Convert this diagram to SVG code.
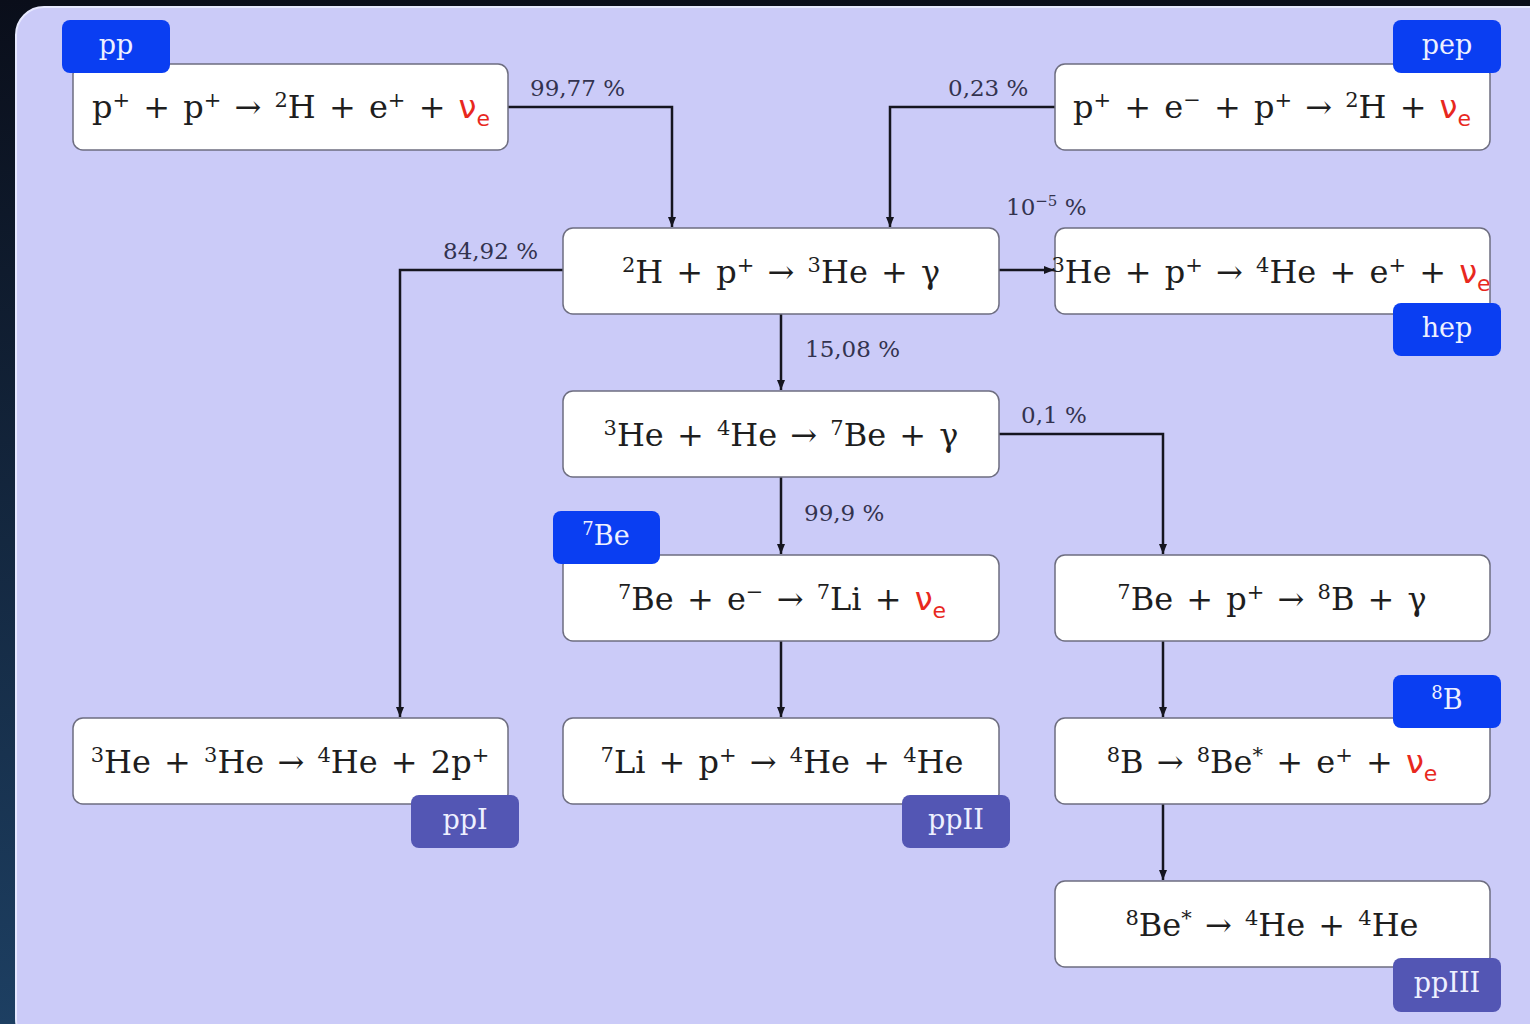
<svg xmlns="http://www.w3.org/2000/svg" width="1530" height="1024" viewBox="0 0 1530 1024">
<defs>
<linearGradient id="bg" x1="0" y1="0" x2="0" y2="1">
<stop offset="0" stop-color="#0a0e1a"/>
<stop offset="1" stop-color="#1d3f62"/>
</linearGradient>
<marker id="ah" viewBox="0 0 10 10" refX="10" refY="5" markerWidth="4" markerHeight="4" orient="auto" markerUnits="strokeWidth">
<path d="M0,1 L10,5 L0,9 Z" fill="#15151f"/>
</marker>
<style>
.box{fill:#ffffff;stroke:#6e6e80;stroke-width:1.5}
.tagb{fill:#0a3ef2}
.tagd{fill:#5356b4}
.tt{font-family:"DejaVu Serif",serif;font-size:27px;fill:#eef0ff;text-anchor:middle}
.rx{font-family:"DejaVu Serif",serif;font-size:32px;fill:#1e1e1e;text-anchor:middle;word-spacing:3px}
.sp{font-size:21px}
.nu{fill:#e8281e;font-family:"DejaVu Sans",sans-serif}
.sb{font-size:22px}
.lbl{font-family:"DejaVu Serif",serif;font-size:23px;fill:#33334f}
.con{fill:none;stroke:#15151f;stroke-width:2.5;marker-end:url(#ah)}
</style>
</defs>
<rect x="0" y="0" width="1530" height="1024" fill="url(#bg)"/>
<rect x="16" y="7" width="1540" height="1040" rx="28" fill="#cbcbf8" stroke="#e6e8ff" stroke-width="2"/>

<g id="connectors">
<path class="con" d="M508,107 H672 V227"/>
<path class="con" d="M1055,107 H890 V227"/>
<path class="con" d="M563,270 H400 V717"/>
<path class="con" d="M999,270 H1054"/>
<path class="con" d="M781,314 V390"/>
<path class="con" d="M781,477 V554"/>
<path class="con" d="M999,434 H1163 V554"/>
<path class="con" d="M781,641 V717"/>
<path class="con" d="M1163,641 V717"/>
<path class="con" d="M1163,804 V880"/>
<text class="lbl" x="530" y="96">99,77 %</text>
<text class="lbl" x="948" y="96">0,23 %</text>
<text class="lbl" x="443" y="259">84,92 %</text>
<text class="lbl" x="1006" y="215">10<tspan font-size="15" dy="-9">−5</tspan><tspan dy="9"> %</tspan></text>
<text class="lbl" x="805" y="357">15,08 %</text>
<text class="lbl" x="804" y="521">99,9 %</text>
<text class="lbl" x="1021" y="423">0,1 %</text>
</g>

<g id="node-pp">
<rect class="box" x="73" y="64" width="435" height="86" rx="10"/>
<rect class="tagb" x="62" y="20" width="108" height="53" rx="8"/>
<text class="tt" x="116" y="54">pp</text>
<text class="rx" x="291" y="118">p<tspan class="sp" dy="-11">+</tspan><tspan dy="11"> + p</tspan><tspan class="sp" dy="-11">+</tspan><tspan dy="11"> → </tspan><tspan class="sp" dy="-11">2</tspan><tspan dy="11">H + e</tspan><tspan class="sp" dy="-11">+</tspan><tspan dy="11"> + </tspan><tspan class="nu">ν</tspan><tspan class="nu sb" dy="8">e</tspan></text>
</g>

<g id="node-pep">
<rect class="box" x="1055" y="64" width="435" height="86" rx="10"/>
<rect class="tagb" x="1393" y="20" width="108" height="53" rx="8"/>
<text class="tt" x="1447" y="54">pep</text>
<text class="rx" x="1272" y="118">p<tspan class="sp" dy="-11">+</tspan><tspan dy="11"> + e</tspan><tspan class="sp" dy="-11">−</tspan><tspan dy="11"> + p</tspan><tspan class="sp" dy="-11">+</tspan><tspan dy="11"> → </tspan><tspan class="sp" dy="-11">2</tspan><tspan dy="11">H + </tspan><tspan class="nu">ν</tspan><tspan class="nu sb" dy="8">e</tspan></text>
</g>

<g id="node-d-p">
<rect class="box" x="563" y="228" width="436" height="86" rx="10"/>
<text class="rx" x="781" y="283"><tspan class="sp" dy="-11">2</tspan><tspan dy="11">H + p</tspan><tspan class="sp" dy="-11">+</tspan><tspan dy="11"> → </tspan><tspan class="sp" dy="-11">3</tspan><tspan dy="11">He + γ</tspan></text>
</g>

<g id="node-hep">
<rect class="box" x="1055" y="228" width="435" height="86" rx="10"/>
<rect class="tagb" x="1393" y="303" width="108" height="53" rx="8"/>
<text class="tt" x="1447" y="337">hep</text>
<text class="rx" x="1271" y="283"><tspan class="sp" dy="-11">3</tspan><tspan dy="11">He + p</tspan><tspan class="sp" dy="-11">+</tspan><tspan dy="11"> → </tspan><tspan class="sp" dy="-11">4</tspan><tspan dy="11">He + e</tspan><tspan class="sp" dy="-11">+</tspan><tspan dy="11"> + </tspan><tspan class="nu">ν</tspan><tspan class="nu sb" dy="8">e</tspan></text>
</g>

<g id="node-he3-he4">
<rect class="box" x="563" y="391" width="436" height="86" rx="10"/>
<text class="rx" x="781" y="446"><tspan class="sp" dy="-11">3</tspan><tspan dy="11">He + </tspan><tspan class="sp" dy="-11">4</tspan><tspan dy="11">He → </tspan><tspan class="sp" dy="-11">7</tspan><tspan dy="11">Be + γ</tspan></text>
</g>

<g id="node-be7-e">
<rect class="box" x="563" y="555" width="436" height="86" rx="10"/>
<rect class="tagb" x="553" y="511" width="107" height="53" rx="8"/>
<text class="tt" x="606" y="545"><tspan font-size="18" dy="-10">7</tspan><tspan dy="10">Be</tspan></text>
<text class="rx" x="782" y="610"><tspan class="sp" dy="-11">7</tspan><tspan dy="11">Be + e</tspan><tspan class="sp" dy="-11">−</tspan><tspan dy="11"> → </tspan><tspan class="sp" dy="-11">7</tspan><tspan dy="11">Li + </tspan><tspan class="nu">ν</tspan><tspan class="nu sb" dy="8">e</tspan></text>
</g>

<g id="node-be7-p">
<rect class="box" x="1055" y="555" width="435" height="86" rx="10"/>
<text class="rx" x="1272" y="610"><tspan class="sp" dy="-11">7</tspan><tspan dy="11">Be + p</tspan><tspan class="sp" dy="-11">+</tspan><tspan dy="11"> → </tspan><tspan class="sp" dy="-11">8</tspan><tspan dy="11">B + γ</tspan></text>
</g>

<g id="node-ppI">
<rect class="box" x="73" y="718" width="435" height="86" rx="10"/>
<rect class="tagd" x="411" y="795" width="108" height="53" rx="8"/>
<text class="tt" x="465" y="829">ppI</text>
<text class="rx" x="290" y="773"><tspan class="sp" dy="-11">3</tspan><tspan dy="11">He + </tspan><tspan class="sp" dy="-11">3</tspan><tspan dy="11">He → </tspan><tspan class="sp" dy="-11">4</tspan><tspan dy="11">He + 2p</tspan><tspan class="sp" dy="-11">+</tspan></text>
</g>

<g id="node-ppII">
<rect class="box" x="563" y="718" width="436" height="86" rx="10"/>
<rect class="tagd" x="902" y="795" width="108" height="53" rx="8"/>
<text class="tt" x="956" y="829">ppII</text>
<text class="rx" x="782" y="773"><tspan class="sp" dy="-11">7</tspan><tspan dy="11">Li + p</tspan><tspan class="sp" dy="-11">+</tspan><tspan dy="11"> → </tspan><tspan class="sp" dy="-11">4</tspan><tspan dy="11">He + </tspan><tspan class="sp" dy="-11">4</tspan><tspan dy="11">He</tspan></text>
</g>

<g id="node-b8">
<rect class="box" x="1055" y="718" width="435" height="86" rx="10"/>
<rect class="tagb" x="1393" y="675" width="108" height="53" rx="8"/>
<text class="tt" x="1447" y="709"><tspan font-size="18" dy="-10">8</tspan><tspan dy="10">B</tspan></text>
<text class="rx" x="1272" y="773"><tspan class="sp" dy="-11">8</tspan><tspan dy="11">B → </tspan><tspan class="sp" dy="-11">8</tspan><tspan dy="11">Be</tspan><tspan class="sp" dy="-11">*</tspan><tspan dy="11"> + e</tspan><tspan class="sp" dy="-11">+</tspan><tspan dy="11"> + </tspan><tspan class="nu">ν</tspan><tspan class="nu sb" dy="8">e</tspan></text>
</g>

<g id="node-be8">
<rect class="box" x="1055" y="881" width="435" height="86" rx="10"/>
<rect class="tagd" x="1393" y="958" width="108" height="54" rx="8"/>
<text class="tt" x="1447" y="992">ppIII</text>
<text class="rx" x="1272" y="936"><tspan class="sp" dy="-11">8</tspan><tspan dy="11">Be</tspan><tspan class="sp" dy="-11">*</tspan><tspan dy="11"> → </tspan><tspan class="sp" dy="-11">4</tspan><tspan dy="11">He + </tspan><tspan class="sp" dy="-11">4</tspan><tspan dy="11">He</tspan></text>
</g>
</svg>
